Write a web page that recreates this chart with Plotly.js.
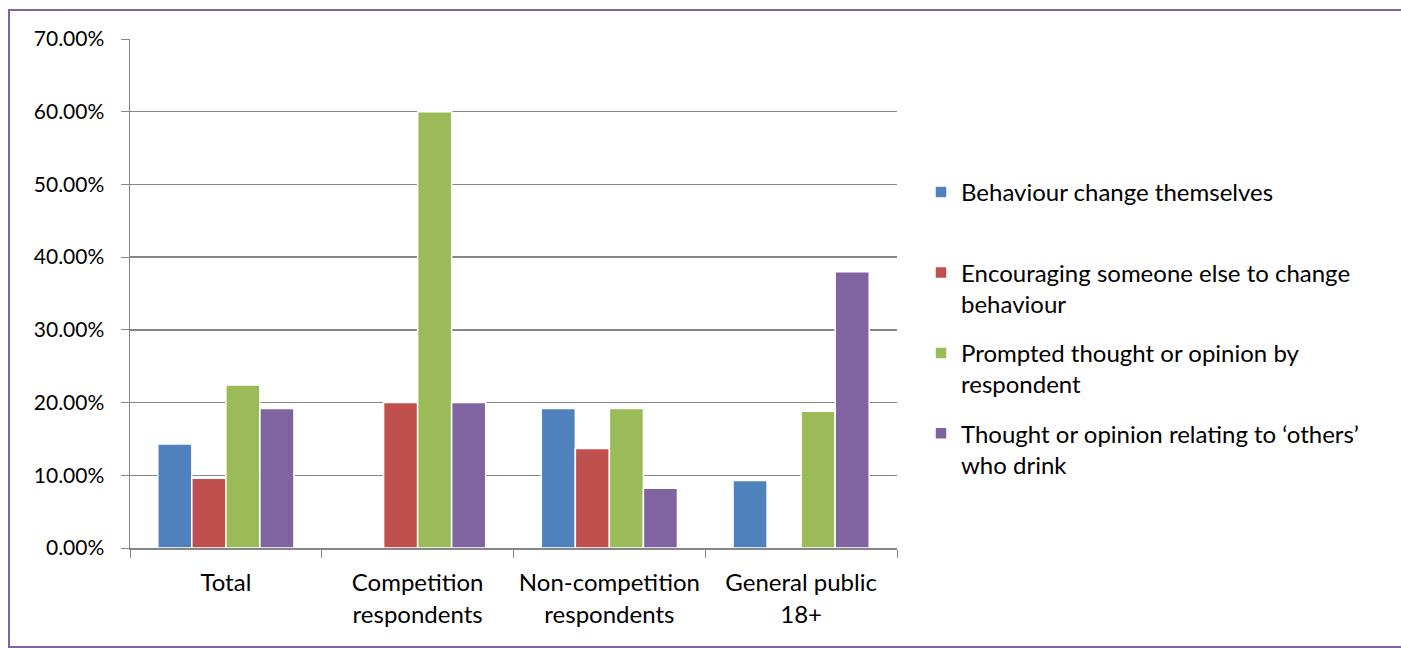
<!DOCTYPE html>
<html>
<head>
<meta charset="utf-8">
<script src="https://cdn.plot.ly/plotly-3.0.1.min.js"></script>
<style>html,body{margin:0;padding:0;background:#fff;}#chart{width:1401px;height:648px;}</style>
</head>
<body>
<div id="chart"></div>
<script>
const categories = ["Total", "Competition<br>respondents", "Non-competition<br>respondents", "General public<br>18+"];
const seriesNames = [
  "Behaviour change themselves<br> ",
  "Encouraging someone else to change<br>behaviour",
  "Prompted thought or opinion by<br>respondent",
  "Thought or opinion relating to \u2018others\u2019<br>who drink"
];
const behaviourThemselves = [0.143, 0, 0.192, 0.093];
const encouragingOthers = [0.096, 0.20, 0.137, 0];
const promptedThought = [0.224, 0.60, 0.192, 0.188];
const othersWhoDrink = [0.192, 0.20, 0.082, 0.380];
const yTickVals = [0, 0.1, 0.2, 0.3, 0.4, 0.5, 0.6, 0.7];
const yTickText = ["0.00%", "10.00%", "20.00%", "30.00%", "40.00%", "50.00%", "60.00%", "70.00%"];

const colors = ["#4F81BD", "#C0504D", "#9BBB59", "#8064A2"];
const values = [behaviourThemselves, encouragingOthers, promptedThought, othersWhoDrink];

const FONT = "Lato, 'Open Sans', sans-serif";

const traces = values.map((v, i) => ({
  type: "bar",
  x: categories,
  y: v,
  name: seriesNames[i],
  legendgroup: "g" + i,
  marker: { color: colors[i], line: { color: "#ffffff", width: 1.5 } },
  hoverinfo: "y+name"
}));

const L = 130, R = 504, T = 39, B = 100;
const W = 1401 - L - R, H = 648 - T - B;
const px2x = p => (p - L) / W;
const py2y = p => (648 - B - p) / H;

const layout = {
  width: 1401,
  height: 648,
  margin: { l: L, r: R, t: T, b: B },
  paper_bgcolor: "#ffffff",
  plot_bgcolor: "#ffffff",
  font: { family: FONT, size: 24, color: "#000000" },
  barmode: "group",
  bargap: 0.29,
  bargroupgap: 0,
  showlegend: true,
  legend: {
    x: px2x(921), xanchor: "left",
    y: py2y(170), yanchor: "top",
    valign: "top",
    tracegroupgap: 15,
    font: { family: FONT, size: 24, color: "#000000" },
    itemwidth: 30
  },
  xaxis: {
    type: "category",
    showgrid: false,
    showline: true,
    linecolor: "#868686",
    linewidth: 1.5,
    ticks: "outside",
    tickson: "boundaries",
    ticklen: 8,
    tickcolor: "#868686",
    ticklabelstandoff: 13,
    tickfont: { family: FONT, size: 24, color: "#000000" },
    fixedrange: true
  },
  yaxis: {
    range: [0, 0.7],
    tickvals: yTickVals,
    ticktext: yTickText,
    showgrid: true,
    gridcolor: "#868686",
    gridwidth: 1.5,
    zeroline: false,
    showline: true,
    linecolor: "#868686",
    linewidth: 1.5,
    ticks: "outside",
    ticklen: 8,
    tickcolor: "#868686",
    ticklabelstandoff: 12,
    tickfont: { family: FONT, size: 21, color: "#000000" },
    fixedrange: true
  },
  shapes: [{
    type: "rect", xref: "paper", yref: "paper",
    x0: px2x(9), x1: px2x(1405), y0: py2y(647), y1: py2y(10),
    line: { color: "#8064A2", width: 2 },
    layer: "below"
  }]
};

Plotly.newPlot("chart", traces, layout, { displayModeBar: false, staticPlot: true });
</script>
</body>
</html>
